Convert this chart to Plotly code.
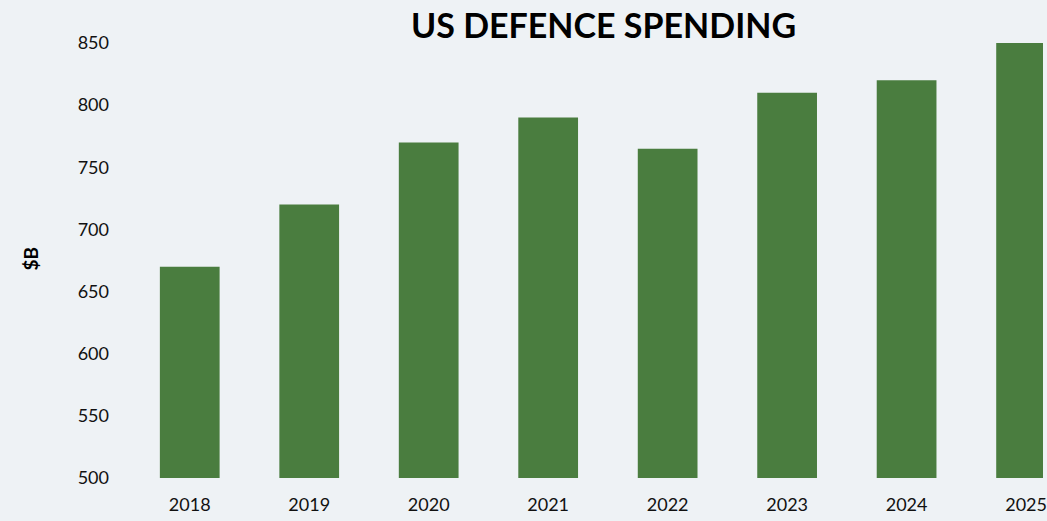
import plotly.graph_objects as go

years = ["2018", "2019", "2020", "2021", "2022", "2023", "2024", "2025"]
spending = [670, 720, 770, 790, 765, 810, 820, 850]
y_ticks = [500, 550, 600, 650, 700, 750, 800, 850]

W, H = 1047, 521
left, top, bottom = 130, 43, 43
pw, ph = W - left, H - top - bottom

def px_x(x):
    return (x - left) / pw

def px_y(y):
    return 1 - (y - top) / ph

fig = go.Figure(go.Bar(
    x=years, y=[v - 500 for v in spending], base=500,
    marker=dict(color="#4a7d3f", line=dict(width=0)),
    width=0.5,
))

fig.update_layout(
    width=W, height=H,
    margin=dict(l=left, r=0, t=top, b=bottom, pad=0),
    paper_bgcolor="#eef2f5", plot_bgcolor="rgba(0,0,0,0)",
    font=dict(family="Lato, 'Open Sans', sans-serif", size=18, color="#111111"),
    showlegend=False,
    xaxis=dict(type="category", range=[-0.5, pw / 120 - 0.5],
               showgrid=False, zeroline=False, showline=False, ticks="",
               ticklabelstandoff=14, tickfont=dict(size=18)),
    yaxis=dict(range=[500, 850], tickvals=y_ticks, showgrid=False, zeroline=False,
               showline=False, ticks="", ticklabelstandoff=20, tickfont=dict(size=18)),
    annotations=[
        dict(text="<b>US DEFENCE SPENDING</b>", x=px_x(606), y=px_y(25),
             xref="paper", yref="paper", xanchor="center", yanchor="middle",
             showarrow=False, font=dict(size=34, color="#000000")),
        dict(text="<b>$B</b>", x=px_x(30), y=px_y(258), textangle=-90,
             xref="paper", yref="paper", xanchor="center", yanchor="middle",
             showarrow=False, font=dict(size=19, color="#000000")),
    ],
)

fig.write_html("out.html")
